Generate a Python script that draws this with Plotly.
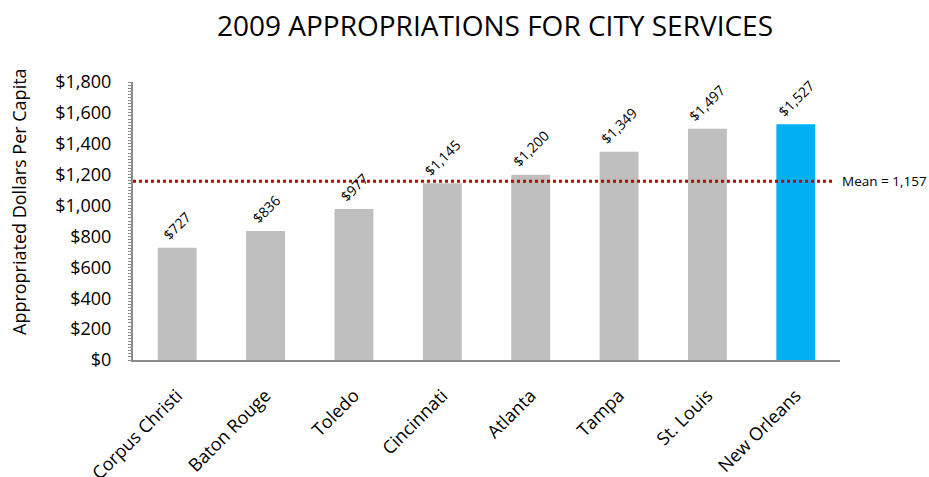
import plotly.graph_objects as go

cities = ["Corpus Christi", "Baton Rouge", "Toledo", "Cincinnati", "Atlanta", "Tampa", "St. Louis", "New Orleans"]
values = [727, 836, 977, 1145, 1200, 1349, 1497, 1527]
colors = ["#BFBFBF"] * 7 + ["#00B0F0"]
mean_value = 1157
y_ticks = [0, 200, 400, 600, 800, 1000, 1200, 1400, 1600, 1800]
y_tick_labels = ["$0", "$200", "$400", "$600", "$800", "$1,000", "$1,200", "$1,400", "$1,600", "$1,800"]

FONT = "Open Sans"
L, R, T, B = 133, 89, 82, 117
W, H = 929, 477
PW = W - L - R
PH = H - T - B

fig = go.Figure()
fig.add_trace(go.Bar(x=cities, y=values, marker=dict(color=colors, line=dict(width=0)), hoverinfo="skip"))

for c, v in zip(cities, values):
    fig.add_annotation(x=c, y=v, text=f"${v:,}", textangle=-45, showarrow=False,
                       xanchor="center", yanchor="bottom", yshift=1,
                       font=dict(family=FONT, size=14, color="black"))

fig.add_shape(type="line", xref="paper", yref="y", x0=0, x1=0.993, y0=mean_value, y1=mean_value,
              line=dict(color="#C00000", width=3, dash="dot"))
fig.add_annotation(xref="paper", yref="y", x=1.0, y=mean_value, text=f"Mean = {mean_value:,}",
                   showarrow=False, xanchor="left", yanchor="middle", xshift=0,
                   font=dict(family=FONT, size=13.5, color="black"))

fig.add_annotation(xref="paper", yref="paper", x=(19 - L) / PW, y=(H - B - 202) / PH,
                   text="Appropriated Dollars Per Capita", textangle=-90, showarrow=False,
                   xanchor="center", yanchor="middle",
                   font=dict(family=FONT, size=18, color="black"))

fig.update_layout(
    width=W, height=H,
    margin=dict(l=L, r=R, t=T, b=B),
    paper_bgcolor="white", plot_bgcolor="white",
    showlegend=False,
    bargap=0.56,
    title=dict(text="2009 APPROPRIATIONS FOR CITY SERVICES", x=495 / W, xanchor="center", xref="container",
               y=1 - 26 / H, yanchor="middle", yref="container",
               font=dict(family=FONT, size=28, color="black")),
    font=dict(family=FONT, color="black"),
)

fig.update_xaxes(showline=True, linecolor="#8C8C8C", linewidth=2, ticks="",
                 tickangle=-45, tickfont=dict(family=FONT, size=18, color="black"),
                 ticklabelstandoff=16, showgrid=False, automargin=False)
fig.update_yaxes(range=[0, 1800], tickvals=y_ticks, ticktext=y_tick_labels,
                 showline=True, linecolor="#8C8C8C", linewidth=2, ticks="",
                 showgrid=False, zeroline=False, automargin=False,
                 ticklabelstandoff=16,
                 tickfont=dict(family=FONT, size=18, color="black"),
                 minor=dict(dtick=20, ticks="outside", ticklen=3, tickcolor="#8C8C8C", tickwidth=1, showgrid=False))

fig.write_html("out.html", config={"displayModeBar": False},
               post_script="document.body.style.margin='0';document.body.style.padding='0';")
